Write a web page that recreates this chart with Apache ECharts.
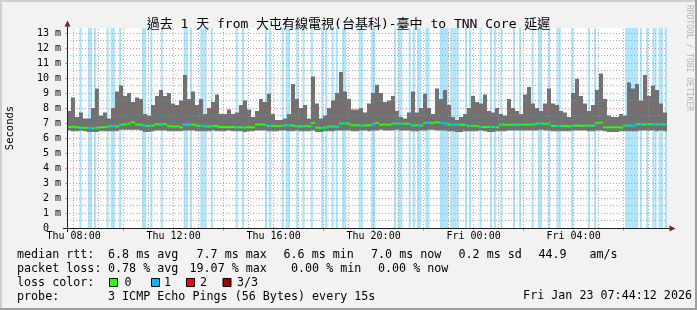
<!DOCTYPE html>
<html><head><meta charset="utf-8">
<script src="https://cdn.jsdelivr.net/npm/echarts@6/dist/echarts.min.js"></script>
<style>html,body{margin:0;padding:0;background:#f2f2f2}#c{width:697px;height:310px}</style>
</head><body><div id="c"></div>
<script>
// ---- time frame (hours since Thu 00:00) ----
const START_H = 7 + 44.2 / 60;   // Thu 07:44:12
const SPAN_H = 24;
const SLOT_H = 0.16;             // smoke / median sample width (9.6 min)
const STEP_H = 5 / 60;           // loss sample width (5 min)
const Y_MAX = 13.3333;

// ---- axes ----
const xTickValues = [8, 12, 16, 20, 24, 28];
const xTickLabels = ['Thu 08:00', 'Thu 12:00', 'Thu 16:00', 'Thu 20:00', 'Fri 00:00', 'Fri 04:00'];
const xMajorGrid = [8, 10, 12, 14, 16, 18, 20, 22, 24, 26, 28, 30];
const xMinorGrid = [9, 11, 13, 15, 17, 19, 21, 23, 25, 27, 29, 31];
const yTickValues = [0, 1, 2, 3, 4, 5, 6, 7, 8, 9, 10, 11, 12, 13];
const yTickLabels = ['0  ', '1 m', '2 m', '3 m', '4 m', '5 m', '6 m', '7 m', '8 m', '9 m', '10 m', '11 m', '12 m', '13 m'];
const yMajorGrid = [1, 2, 3, 4, 5, 6, 7, 8, 9, 10, 11, 12, 13];
const yMinorGrid = [0.5, 1.5, 2.5, 3.5, 4.5, 5.5, 6.5, 7.5, 8.5, 9.5, 10.5, 11.5, 12.5];

// ---- data (ms) ----
const smokeTop = [
  7.8, 8.7, 7.4, 7.7, 7.3, 7.3, 8.0, 9.3, 7.5, 7.7, 7.3, 8.0, 9.1, 9.5, 8.8, 9.0, 8.4, 8.7, 8.6, 7.6,
  7.5, 8.2, 8.8, 9.2, 8.8, 9.0, 8.3, 8.2, 8.5, 10.2, 8.6, 9.1, 8.2, 8.6, 7.6, 8.0, 8.4, 8.9,
  7.6, 7.6, 7.9, 7.6, 7.7, 8.2, 8.5, 7.9, 7.4, 7.8, 8.6, 8.4, 8.95, 7.6, 7.2, 7.2, 7.3, 7.6, 9.6, 8.6,
  8.0, 8.2, 7.3, 10.1, 8.3, 7.3, 7.5, 8.0, 8.5, 9.0, 10.4, 9.1, 8.6, 7.9, 7.9, 8.0, 7.7, 8.3,
  9.0, 9.55, 9.0, 8.4, 8.5, 8.8, 7.8, 7.4, 7.3, 7.7, 9.1, 7.7, 8.0, 8.95, 8.0, 7.6, 9.3, 8.6, 9.2, 8.2,
  7.4, 7.2, 7.4, 7.6, 8.0, 8.8, 8.4, 8.3, 8.9, 7.8, 7.7, 8.0, 7.6, 7.5, 8.6, 8.0, 7.8,
  7.6, 8.9, 9.4, 8.3, 8.0, 7.8, 8.3, 9.3, 8.3, 8.2, 7.8, 7.7, 7.4, 9.0, 9.95, 8.8, 8.3, 7.8, 8.2, 9.2,
  10.3, 8.6, 7.5, 7.4, 7.4, 7.6, 7.5, 9.7, 9.3, 9.6, 8.5, 10.2, 8.8, 9.5, 9.2, 8.3, 7.7
];
const smokeBottom = [
  6.5, 6.45, 6.45, 6.5, 6.45, 6.4, 6.4, 6.4, 6.45, 6.45, 6.45, 6.45, 6.45, 6.55, 6.55, 6.55, 6.55, 6.55, 6.5, 6.4,
  6.4, 6.45, 6.5, 6.5, 6.5, 6.45, 6.45, 6.45, 6.45, 6.5, 6.5, 6.5, 6.45, 6.45, 6.45, 6.45, 6.5, 6.45,
  6.45, 6.45, 6.5, 6.45, 6.45, 6.45, 6.4, 6.45, 6.45, 6.5, 6.5, 6.5, 6.45, 6.45, 6.45, 6.5, 6.5, 6.45, 6.45, 6.5,
  6.45, 6.45, 6.45, 6.5, 6.4, 6.4, 6.45, 6.45, 6.45, 6.5, 6.5, 6.5, 6.5, 6.45, 6.45, 6.5, 6.5, 6.45,
  6.5, 6.5, 6.55, 6.5, 6.5, 6.5, 6.55, 6.5, 6.5, 6.5, 6.45, 6.45, 6.5, 6.5, 6.55, 6.55, 6.5, 6.5, 6.5, 6.45,
  6.45, 6.4, 6.4, 6.45, 6.45, 6.45, 6.45, 6.5, 6.45, 6.4, 6.4, 6.45, 6.45, 6.45, 6.5, 6.5, 6.5,
  6.5, 6.5, 6.5, 6.5, 6.5, 6.55, 6.5, 6.5, 6.45, 6.45, 6.45, 6.45, 6.45, 6.5, 6.5, 6.5, 6.5, 6.45, 6.45, 6.5,
  6.5, 6.45, 6.4, 6.4, 6.4, 6.45, 6.45, 6.45, 6.45, 6.45, 6.5, 6.5, 6.5, 6.5, 6.45, 6.5, 6.45
];
const medianRtt = [
  6.73, 6.75, 6.72, 6.69, 6.68, 6.67, 6.66, 6.68, 6.71, 6.72, 6.78, 6.79, 6.77, 6.88, 6.9, 6.96, 7.05, 6.9, 6.88, 6.82,
  6.8, 6.83, 6.92, 6.9, 6.93, 6.79, 6.77, 6.78, 6.71, 6.9, 6.88, 6.9, 6.83, 6.81, 6.78, 6.77, 6.8, 6.78,
  6.73, 6.74, 6.72, 6.73, 6.71, 6.71, 6.7, 6.72, 6.71, 6.9, 6.91, 6.88, 6.8, 6.81, 6.79, 6.8, 6.84, 6.85, 6.83, 6.78,
  6.77, 6.79, 6.78, 7.0, 6.69, 6.68, 6.7, 6.76, 6.77, 6.75, 6.96, 6.97, 6.95, 6.84, 6.85, 6.83, 6.84, 6.85,
  6.89, 7.0, 6.88, 6.9, 6.89, 6.96, 6.97, 6.95, 6.96, 6.94, 6.84, 6.85, 6.83, 7.0, 7.02, 6.99, 7.05, 7.0, 6.98, 6.89,
  6.88, 6.9, 6.89, 6.87, 6.8, 6.81, 6.79, 6.73, 6.72, 6.74, 6.73, 6.72, 6.89, 6.9, 6.88, 6.9, 6.89,
  6.89, 6.88, 6.9, 6.89, 6.96, 6.97, 6.95, 6.96, 6.8, 6.81, 6.79, 6.8, 6.78, 6.82, 6.83, 6.81, 6.82, 6.84, 6.82, 7.0,
  7.02, 6.71, 6.7, 6.72, 6.71, 6.7, 6.82, 6.83, 6.81, 6.91, 6.92, 6.9, 6.93, 6.91, 6.9, 6.92, 6.91
];
// 5-minute steps (0..287) that had 1 of 3 pings lost
const lossSteps = [
  6, 10, 11, 13, 19, 21, 22, 25, 36, 37, 40, 45, 56, 57, 59, 64, 65, 66, 69,
  81, 84, 95, 97, 103, 105, 106, 110, 113, 117, 122, 124, 127, 129, 132, 133, 140, 141,
  146, 147, 157, 159, 160, 164, 166, 168, 169, 172, 173, 179, 180, 181, 182, 184, 185, 186, 187,
  191, 193, 198, 203, 205, 208, 214,
  217, 223, 226, 227, 231, 235, 236, 242, 250, 253, 268, 269, 270, 271, 272, 273, 275, 278, 281, 282, 284, 285, 287
];

const titleText = '過去 1 天 from 大屯有線電視(台基科)-臺中 to TNN Core 延遲';
const legendRows = [
  [['median rtt:', 17], ['6.8 ms avg', 108], ['7.7 ms max', 196.5], ['6.6 ms min', 283.5], ['7.0 ms now', 371], ['0.2 ms sd', 458.5], ['44.9', 538.5], ['am/s', 589.5]],
  [['packet loss:', 17], ['0.78 % avg', 108], ['19.07 % max', 189.5], ['0.00 % min', 291], ['0.00 % now', 378]],
  [['loss color:', 17], ['0', 124.5], ['1', 164], ['2', 200], ['3/3', 237]],
  [['probe:', 17], ['3 ICMP Echo Pings (56 Bytes) every 15s', 108]]
];
const lossColors = ['#26ff00', '#00b8ff', '#ff0000', '#a00000'];
const lossBoxX = [109.5, 151.5, 186.5, 223];
const probeDate = 'Fri Jan 23 07:44:12 2026';

// ---- styles ----
const MONO = "'DejaVu Sans Mono', monospace";
const MGRID = 'rgba(222,79,79,0.6)';
const GRID = 'rgba(143,143,143,0.75)';
const SMOKE = '#717171';
const LOSS_BG = '#a9e3fb';

const smokeData = smokeTop.map((hi, i) => [START_H + i * SLOT_H, smokeBottom[i], hi]);
const medianData = medianRtt.map((m, i) => [START_H + i * SLOT_H, m]);
const lossData = lossSteps.map(k => [START_H + k * STEP_H,
  medianRtt[Math.min(medianRtt.length - 1, Math.floor((k * STEP_H + 1e-9) / SLOT_H))]]);

function smokeItem(params, api) {
  const t = api.value(0);
  const a = api.coord([t, api.value(2)]);
  const b = api.coord([t + SLOT_H, api.value(1)]);
  return { type: 'rect', shape: { x: a[0], y: a[1], width: b[0] - a[0], height: b[1] - a[1] },
    style: { fill: SMOKE } };
}
function medianItem(params, api) {
  const t = api.value(0);
  const a = api.coord([t, api.value(1)]);
  const b = api.coord([t + SLOT_H, api.value(1)]);
  return { type: 'rect', shape: { x: a[0], y: a[1] - 1, width: b[0] - a[0], height: 2 },
    style: { fill: lossColors[0] } };
}
function lossBgItem(params, api) {
  const t = api.value(0);
  const a = api.coord([t, Y_MAX]);
  const b = api.coord([t + STEP_H, 0]);
  return { type: 'rect', shape: { x: a[0], y: a[1], width: b[0] - a[0], height: b[1] - a[1] },
    style: { fill: LOSS_BG } };
}
function lossMedItem(params, api) {
  const t = api.value(0);
  const a = api.coord([t, api.value(1)]);
  const b = api.coord([t + STEP_H, api.value(1)]);
  return { type: 'rect', shape: { x: a[0], y: a[1] - 1, width: b[0] - a[0], height: 2 },
    style: { fill: lossColors[1] } };
}

const gridLines = [].concat(
  xMinorGrid.map(v => ({ xAxis: v, lineStyle: { color: GRID, width: 1, type: [1, 2] } })),
  yMinorGrid.map(v => ({ yAxis: v, lineStyle: { color: GRID, width: 1, type: [1, 2] } })),
  xMajorGrid.map(v => ({ xAxis: v, lineStyle: { color: MGRID, width: 1, type: [1, 2] } })),
  yMajorGrid.map(v => ({ yAxis: v, lineStyle: { color: MGRID, width: 1, type: [1, 2] } }))
);

const textStyle = (s, size) => ({ text: s, fontFamily: MONO, fontSize: size, fill: '#000' });
const graphics = [
  { type: 'rect', shape: { x: 0, y: 0, width: 697, height: 2 }, style: { fill: '#cfcfcf' }, silent: true },
  { type: 'rect', shape: { x: 0, y: 0, width: 2, height: 310 }, style: { fill: '#cfcfcf' }, silent: true },
  { type: 'rect', shape: { x: 0, y: 308, width: 697, height: 2 }, style: { fill: '#9e9e9e' }, silent: true },
  { type: 'rect', shape: { x: 695, y: 0, width: 2, height: 310 }, style: { fill: '#9e9e9e' }, silent: true },
  // axis extensions and arrows
  { type: 'line', shape: { x1: 63, y1: 228.5, x2: 670, y2: 228.5 }, style: { stroke: '#1f1f1f', lineWidth: 1 }, silent: true, z: 10 },
  { type: 'line', shape: { x1: 67.5, y1: 232, x2: 67.5, y2: 25 }, style: { stroke: '#1f1f1f', lineWidth: 1 }, silent: true, z: 10 },
  { type: 'polygon', shape: { points: [[64.5, 26.5], [70.5, 26.5], [67.5, 20.5]] }, style: { fill: '#801f1f' }, silent: true, z: 10 },
  { type: 'polygon', shape: { points: [[669.5, 225.5], [669.5, 231.5], [675.5, 228.5]] }, style: { fill: '#801f1f' }, silent: true, z: 10 },
  { type: 'text', x: 10.5, y: 128, rotation: Math.PI / 2, silent: true,
    style: Object.assign(textStyle('Seconds', 10.5), { align: 'center', verticalAlign: 'middle' }) },
  { type: 'text', x: 689.5, y: 5, rotation: -Math.PI / 2, silent: true,
    style: { text: 'RRDTOOL / TOBI OETIKER', fontFamily: MONO, fontSize: 8, fill: '#b4b4b4', align: 'left', verticalAlign: 'middle' } },
  { type: 'text', x: 692, y: 296, silent: true,
    style: Object.assign(textStyle(probeDate, 11.7), { align: 'right', verticalAlign: 'middle' }) }
];
const rowY = [254.5, 268.5, 282.5, 296.5];
legendRows.forEach((row, r) => row.forEach(([s, x]) => graphics.push({
  type: 'text', x: x, y: rowY[r], silent: true,
  style: Object.assign(textStyle(s, 11.7), { align: 'left', verticalAlign: 'middle' })
})));
lossColors.forEach((c, i) => graphics.push({
  type: 'rect', shape: { x: lossBoxX[i], y: 278.5, width: 8, height: 8 }, silent: true,
  style: { fill: c, stroke: '#000', lineWidth: 1 }
}));

const chart = echarts.init(document.getElementById('c'), null, { renderer: 'canvas' });
chart.setOption({
  animation: false,
  backgroundColor: '#f2f2f2',
  title: { text: titleText, left: 'center', top: 13,
    textStyle: { fontFamily: "'DejaVu Sans Mono', 'Noto Sans CJK TC', monospace", fontSize: 13, fontWeight: 'normal', color: '#000' } },
  grid: { left: 67, top: 28, width: 600, height: 200, show: true, backgroundColor: '#ffffff', borderWidth: 0,
    containLabel: false, outerBoundsMode: 'none' },
  xAxis: {
    type: 'value', min: START_H, max: START_H + SPAN_H,
    axisLine: { show: true, lineStyle: { color: '#1f1f1f', width: 1 } },
    axisTick: { show: true, customValues: xMajorGrid, length: 3, lineStyle: { color: MGRID } },
    axisLabel: { show: true, customValues: xTickValues, margin: 3, fontFamily: MONO, fontSize: 10, color: '#000',
      formatter: v => { const k = xTickValues.indexOf(Math.round(v)); return k >= 0 ? xTickLabels[k] : ''; } },
    splitLine: { show: false }, minorSplitLine: { show: false }
  },
  yAxis: {
    type: 'value', min: 0, max: Y_MAX,
    axisLine: { show: true, lineStyle: { color: '#1f1f1f', width: 1 } },
    axisTick: { show: true, customValues: yMajorGrid, length: 2, lineStyle: { color: MGRID } },
    axisLabel: { show: true, customValues: yTickValues, margin: 6, fontFamily: MONO, fontSize: 10, color: '#000',
      formatter: v => { const k = yTickValues.indexOf(Math.round(v)); return k >= 0 ? yTickLabels[k] : ''; } },
    splitLine: { show: false }, minorSplitLine: { show: false }
  },
  series: [
    { type: 'custom', name: 'loss background', data: lossData, renderItem: lossBgItem, z: 1, silent: true, clip: true },
    { type: 'custom', name: 'smoke', data: smokeData, renderItem: smokeItem, z: 2, silent: true, clip: true },
    { type: 'line', name: 'grid', data: [], z: 3, silent: true,
      markLine: { silent: true, symbol: ['none', 'none'], animation: false, label: { show: false },
        emphasis: { disabled: true }, data: gridLines } },
    { type: 'custom', name: 'median', data: medianData, renderItem: medianItem, z: 4, silent: true, clip: true },
    { type: 'custom', name: 'median (loss 1)', data: lossData, renderItem: lossMedItem, z: 5, silent: true, clip: true }
  ],
  graphic: { elements: graphics }
});
</script></body></html>
